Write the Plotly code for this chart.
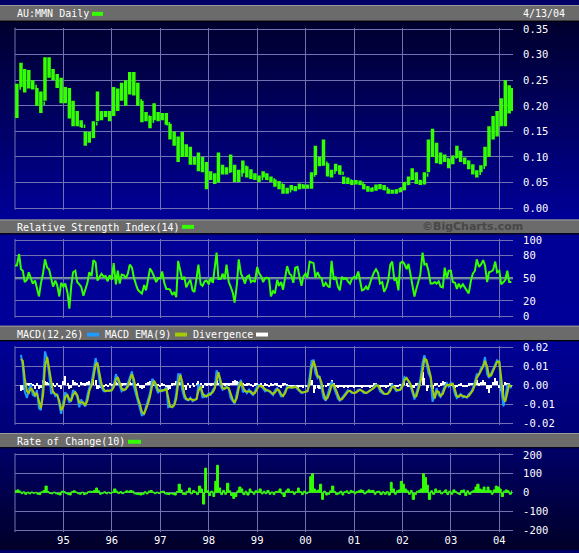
import plotly.graph_objects as go
import pandas as pd

W, H = 579, 553

# ---------------- data ----------------
year_tick_dates = ['1995-01-01', '1996-01-01', '1997-01-01', '1998-01-01', '1999-01-01',
                   '2000-01-01', '2001-01-01', '2002-01-01', '2003-01-01', '2004-01-01']
year_tick_labels = ['95', '96', '97', '98', '99', '00', '01', '02', '03', '04']

price_tick_vals = [0.00, 0.05, 0.10, 0.15, 0.20, 0.25, 0.30, 0.35]
rsi_tick_vals = [0, 20, 50, 80, 100]
macd_tick_vals = [-0.02, -0.01, 0.00, 0.01, 0.02]
roc_tick_vals = [-200, -100, 0, 100, 200]

# monthly bars, Jan 1994 .. Apr 2004
price_high = [0.243, 0.284, 0.272, 0.270, 0.250, 0.235, 0.228, 0.295, 0.295, 0.272,
              0.262, 0.255, 0.237, 0.235, 0.210, 0.190, 0.172, 0.150, 0.149, 0.170,
              0.228, 0.190, 0.190, 0.190, 0.237, 0.234, 0.245, 0.250, 0.266, 0.266,
              0.245, 0.210, 0.188, 0.180, 0.205, 0.188, 0.186, 0.186, 0.165, 0.150,
              0.140, 0.149, 0.125, 0.120, 0.100, 0.109, 0.100, 0.090, 0.072, 0.068,
              0.109, 0.085, 0.080, 0.105, 0.085, 0.075, 0.093, 0.082, 0.076, 0.068,
              0.064, 0.072, 0.068, 0.062, 0.056, 0.053, 0.047, 0.040, 0.045, 0.042,
              0.048, 0.046, 0.046, 0.070, 0.122, 0.100, 0.134, 0.088, 0.075, 0.087,
              0.084, 0.062, 0.060, 0.055, 0.055, 0.054, 0.047, 0.043, 0.040, 0.046,
              0.047, 0.045, 0.038, 0.036, 0.037, 0.040, 0.051, 0.062, 0.078, 0.070,
              0.055, 0.070, 0.134, 0.155, 0.128, 0.109, 0.105, 0.097, 0.103, 0.122,
              0.112, 0.099, 0.093, 0.086, 0.074, 0.084, 0.120, 0.160, 0.180, 0.190,
              0.215, 0.250, 0.240, 0.235]
price_low = [0.176, 0.237, 0.226, 0.234, 0.232, 0.200, 0.186, 0.210, 0.255, 0.250,
             0.235, 0.205, 0.205, 0.175, 0.160, 0.160, 0.158, 0.122, 0.128, 0.137,
             0.170, 0.172, 0.178, 0.170, 0.180, 0.190, 0.210, 0.200, 0.222, 0.220,
             0.200, 0.168, 0.170, 0.156, 0.172, 0.170, 0.172, 0.163, 0.134, 0.122,
             0.090, 0.100, 0.100, 0.085, 0.085, 0.072, 0.070, 0.037, 0.055, 0.047,
             0.050, 0.066, 0.066, 0.070, 0.051, 0.051, 0.068, 0.060, 0.057, 0.055,
             0.051, 0.060, 0.055, 0.051, 0.042, 0.037, 0.028, 0.028, 0.035, 0.033,
             0.037, 0.038, 0.038, 0.038, 0.065, 0.082, 0.083, 0.062, 0.060, 0.072,
             0.066, 0.047, 0.047, 0.045, 0.046, 0.045, 0.037, 0.032, 0.032, 0.034,
             0.037, 0.035, 0.028, 0.028, 0.028, 0.031, 0.035, 0.045, 0.055, 0.047,
             0.045, 0.046, 0.070, 0.100, 0.088, 0.086, 0.090, 0.078, 0.086, 0.098,
             0.090, 0.086, 0.076, 0.066, 0.060, 0.070, 0.082, 0.100, 0.134, 0.140,
             0.160, 0.160, 0.185, 0.190]
price_close = [0.235, 0.262, 0.248, 0.245, 0.238, 0.215, 0.205, 0.285, 0.262, 0.258,
               0.240, 0.215, 0.222, 0.190, 0.175, 0.168, 0.160, 0.135, 0.140, 0.165,
               0.185, 0.182, 0.185, 0.185, 0.215, 0.220, 0.230, 0.235, 0.245, 0.240,
               0.210, 0.180, 0.178, 0.170, 0.180, 0.180, 0.178, 0.165, 0.140, 0.130,
               0.110, 0.115, 0.110, 0.095, 0.090, 0.080, 0.080, 0.065, 0.062, 0.055,
               0.075, 0.075, 0.072, 0.075, 0.060, 0.065, 0.080, 0.070, 0.065, 0.060,
               0.058, 0.065, 0.058, 0.055, 0.048, 0.045, 0.035, 0.034, 0.040, 0.040,
               0.044, 0.042, 0.042, 0.065, 0.095, 0.090, 0.088, 0.068, 0.070, 0.078,
               0.068, 0.052, 0.053, 0.050, 0.050, 0.048, 0.040, 0.036, 0.038, 0.042,
               0.042, 0.038, 0.032, 0.032, 0.034, 0.038, 0.048, 0.058, 0.065, 0.052,
               0.050, 0.065, 0.120, 0.115, 0.100, 0.095, 0.095, 0.090, 0.100, 0.105,
               0.095, 0.090, 0.080, 0.070, 0.068, 0.080, 0.110, 0.150, 0.160, 0.180,
               0.200, 0.210, 0.210, 0.215]
price_first_open = 0.200

# half-monthly readings, Jan 1994 .. Apr 2004
rsi_values = [67, 67, 82, 62, 60, 45, 48, 58, 50, 43,
              47, 38, 26, 43, 57, 75, 64, 62, 50, 39,
              47, 41, 26, 44, 39, 43, 31, 10, 40, 58,
              60, 45, 42, 39, 27, 35, 44, 58, 53, 74,
              71, 47, 52, 56, 52, 53, 46, 54, 48, 70,
              42, 60, 43, 55, 54, 50, 56, 68, 64, 51,
              42, 35, 32, 30, 41, 34, 49, 63, 58, 52,
              45, 50, 50, 59, 43, 36, 36, 35, 28, 32,
              25, 73, 60, 48, 52, 38, 44, 48, 34, 32,
              50, 68, 42, 40, 46, 47, 42, 50, 44, 62,
              84, 49, 49, 56, 49, 68, 45, 39, 31, 18,
              42, 75, 56, 51, 43, 52, 54, 45, 47, 45,
              65, 57, 52, 45, 50, 51, 49, 26, 33, 30,
              48, 40, 45, 35, 54, 66, 56, 54, 44, 64,
              65, 55, 40, 52, 56, 51, 72, 71, 70, 51,
              58, 52, 50, 39, 44, 40, 38, 73, 48, 52,
              39, 34, 52, 49, 50, 46, 43, 49, 52, 50,
              59, 47, 34, 35, 39, 35, 45, 51, 58, 62,
              57, 43, 45, 32, 38, 47, 68, 72, 47, 50,
              34, 70, 72, 69, 62, 69, 56, 44, 26, 36,
              45, 55, 84, 68, 69, 60, 43, 43, 45, 43,
              46, 39, 38, 64, 50, 60, 60, 45, 44, 36,
              43, 38, 42, 38, 33, 30, 47, 56, 60, 75,
              65, 68, 74, 67, 45, 58, 59, 61, 72, 58,
              60, 42, 45, 48, 60, 45, 45]

# MACD values in thousandths
macd_milli = [None, None, None, 16.2, 10, -3, -6.6, -2, 0.5, -5,
              -5.7, -2.5, -12, -13, 0, 18, 14, 6, -4.5, -3,
              -5.5, -4.5, -11, -15, -8.3, -3.5, -6, -9, -7, -2.5,
              -4, -6, -11.5, -7.4, -10, -11, -5, -1.2, 1.2, 7,
              14.5, 10, 2, -1, -3, -3, -2.5, -3, -2.2, 0,
              6, 3, 0, -3, -2, -2, 1.2, 4.5, 7.5, -0.5,
              -4.5, -8.5, -11.5, -16, -14.5, -11, -8, -4, 3.5, 2,
              -1.4, -4, -2, -3, -2.2, -1, -11.5, -11, -11.5, -10,
              -4, 6, 6, -2.5, -6.6, -7.4, -7.8, -6.5, -8.3, -7.4,
              -7, 0.5, -1, -6.6, -5, -6, -4, -4.8, -2.2, -1,
              8, 6, -0.5, -2.2, -1.4, -0.5, -2, -6.6, -8.3, -9.5,
              -4, 0.5, 3, -3.5, -2.5, -4, -2.2, -4, -5, -3,
              -0.5, 0.3, -0.5, -1.4, -3, -2.2, -3.1, -4, -5, -2.5,
              -1.4, -3.5, -5.7, -5.5, -2.2, -0.5, -1, -1.2, -1, -0.5,
              -2, -3, -4, -3.5, -3.1, -3, 5, 13, 13.3, 6.5,
              4, 5, -1.5, -6.6, -8, -5, -2, 2.1, -1, -3.5,
              -7, -8, -6.6, -5, -4, -2.5, -3, -4, -4, -3.5,
              -2.2, -2.2, -3.1, -4, -4, -3.1, -2.5, -2, -0.5, 0.5,
              -0.5, -3, -4, -4.5, -4.5, -4, -1.5, 0.3, -1.4, -3,
              -2.2, -2.2, 1, 4.5, 3.5, 2.1, 0, -4, -7.4, -4,
              -0.5, 3, 12, 16, 11.6, 6.5, 4, -8.5, -5, -1.4,
              -5, -6, -3, -0.5, 1.2, -0.5, 1.5, 0.3, -4.8, -6.6,
              -5.5, -4.5, -6.3, -5.7, -6.5, -4.5, -3.5, -1.5, 2.1, 6,
              6, 9, 10.7, 15, 6, 4, 6.5, 9, 11.6, 13.3,
              12, -2, -11, -6, 0, 0.5, -1.4]

macd_ema_milli = [None, None, None, 14, 13, 4, -3, -4, -1.5, -2.5,
                  -5, -4, -8, -12, -5, 10, 15, 9, 1, -3.5,
                  -4.5, -5, -8, -13, -11, -6, -5, -7.5, -8, -5,
                  -3.5, -5, -9, -9, -9, -10.5, -8, -3, 0, 4,
                  11, 12, 6, 1, -2, -3, -2.8, -2.8, -2.5, -1,
                  3, 4.5, 1.5, -1.5, -2.5, -2, -0.5, 3, 6, 3.5,
                  -2.5, -6.5, -10, -14, -15, -12.5, -9.5, -6, 0, 2.5,
                  0.5, -2.5, -3, -2.5, -2.5, -1.5, -6.5, -11, -11.3, -10.5,
                  -7, 1, 5.5, 2, -4.5, -7, -7.6, -7, -7.5, -7.8,
                  -7.2, -3, -0.5, -4, -5.8, -5.5, -5, -4.4, -3.5, -1.6,
                  3.5, 7, 2.5, -1.3, -1.8, -1, -1.3, -4.5, -7.5, -9,
                  -6.5, -1.5, 2, -0.5, -3, -3.2, -3, -3.2, -4.5, -4,
                  -1.8, -0.2, -0.1, -1, -2.2, -2.6, -2.7, -3.5, -4.5, -3.7,
                  -2, -2.5, -4.6, -5.6, -3.8, -1.3, -0.8, -1.1, -1.1, -0.7,
                  -1.3, -2.5, -3.5, -3.7, -3.3, -3, 1, 9, 13, 10,
                  5, 4.5, 1.5, -4, -7.3, -6.5, -3.5, 0, 0.5, -2.2,
                  -5.3, -7.5, -7.3, -5.8, -4.5, -3.2, -2.8, -3.5, -4, -3.7,
                  -2.8, -2.2, -2.7, -3.5, -4, -3.5, -2.8, -2.2, -1.2, 0,
                  0, -1.8, -3.5, -4.3, -4.5, -4.2, -2.7, -0.6, -0.6, -2.2,
                  -2.6, -2.2, -0.5, 2.8, 4, 2.8, 1, -2, -5.8, -5.7,
                  -2.2, 1.3, 7.5, 14, 13.5, 9, 5, -2, -6.8, -3,
                  -3.3, -5.5, -4.5, -1.7, 0.4, 0.3, 0.5, 0.9, -2.3, -5.7,
                  -6, -5, -5.5, -6, -6.1, -5.5, -4, -2.5, 0.3, 4,
                  6, 7.5, 10, 13, 10, 5, 5.3, 7.8, 10.3, 12.5,
                  12.6, 5, -6.5, -8.5, -3, 0.2, -0.5]

divergence_milli = [None, None, None, -3, -2.5, -1, 1.2, 1, 1.5, 0.8,
                    -2, 1, -2, -1.5, 2.9, 2.5, 2, 1.5, -1.5, 1,
                    -1, 1.2, -1, -2, 2.5, 4.7, 1, -2, -1.5, 2.9,
                    2, 1.5, -1, 2, 1.5, 1, 2, 2.5, 3.5, 3.8,
                    3, -2, -1.4, 1.2, -1, 0.8, -0.8, 1.2, 0.8, 1.5,
                    2, 1.2, 1.5, 1, 1.5, 1.2, 2, 1.8, 1.5, 1,
                    0.8, 1, -1.5, -2, -1.4, 1.5, 2, 2.5, 2, 1,
                    -0.8, 0.8, -1, 1, 0.8, -1.5, -2.2, -2, 1, 1.5,
                    2.5, 2.9, 2, 1.5, -1, -2.2, 1.5, -1.5, 1.2, -1,
                    1.5, 2.5, 1.2, -1.2, 1.5, 1, 1.5, 1, 1.2, 1.8,
                    2.9, 1.5, 1, 1.2, 1, 1.5, 1, 1.2, 2.5, 2.9,
                    2.5, 2, 1, 1.2, 0.8, 1, 1.2, 0.8, -0.8, 1,
                    1.2, 0.8, 1, -0.8, 1, 0.8, -1, 1, 0.8, 1.2,
                    1, -0.8, -1.2, 1, 1.2, 0.8, -1, -1.2, -0.8, -1,
                    -1.4, -1, -0.8, -1.2, -1, -0.8, 4.7, 3, -4, -2,
                    -1.5, -2, -1.5, -1, -0.8, 1, 1.2, 2.9, 1.5, -1,
                    -1.2, -1, -0.8, -1.2, -1, -1.4, -1, -0.8, -1.2, -1,
                    -0.8, -1, -1.2, -1, -0.8, -1, -1.2, -0.8, 1, 1.2,
                    -1, -1.2, -0.8, -1, -1.2, -0.8, 1, 1.2, -1, -0.8,
                    -1, 0.8, 1.5, 2, 1, -0.8, -1, -1.5, -1.2, 1,
                    1.5, 2.9, 7.2, 3.8, -3, -1.5, -1, -2, 1, 1.2,
                    -0.8, 1, 2.5, 2, 1, -0.8, 1, -1, -1.2, -1,
                    0.8, 1, -0.8, -1, -0.8, 1, 1.2, 1.5, 2.5, 2.9,
                    1, 2, 2.9, 2, -2, -4, -1.5, 2, 3.8, 2.5,
                    -1.5, -3, -4, 2, 1.5, 1, -0.8]

roc_values = [10, 15, 8, -5, 5, -8, 3, -6, 4, -3,
              2, -8, -10, 5, 12, 35, 6, -4, -6, 3,
              -5, -8, -12, 8, 6, -4, -10, -12, 6, 10,
              4, -5, -8, 3, -10, -6, 5, 8, 6, 12,
              25, 10, -8, -3, 5, -5, 3, -4, 4, 20,
              8, -4, 6, -5, 4, 10, 6, 12, 8, -6,
              -8, -10, -12, -8, 5, -6, 8, 12, 4, -5,
              3, -4, 6, 8, -6, -8, -10, -5, -8, -12,
              6, 45, 15, -8, -10, 8, 25, -6, 12, 5,
              -10, 35, 20, -60, 130, 10, -15, 8, -20, 60,
              145, 25, -10, 12, -8, 50, 10, -15, -30, -20,
              10, 30, 20, -10, 8, -12, 20, 6, -8, 10,
              5, 20, -6, 8, -5, 12, -8, 4, -10, 6,
              8, 20, -6, -20, 10, 20, 5, 8, -8, 5,
              25, 6, -10, 8, -5, 4, 85, 100, 20, 10,
              15, 45, -35, 8, -12, -8, 10, 35, 6, -10,
              -6, 8, -12, 5, 10, -4, 12, 8, -6, 6,
              10, 15, 12, -6, 8, 15, 10, 12, -8, 6,
              8, -10, 5, -8, 6, -12, 55, 20, -8, 10,
              15, 60, 45, 20, 10, -8, 12, -35, -10, 8,
              12, 20, 100, 80, 40, -35, 10, -8, 20, 8,
              12, -6, 5, 15, -10, 8, -8, 15, 6, -5,
              -10, 12, 15, -15, 10, -8, 6, 12, 30, 45,
              20, 15, 30, 10, 30, 12, -8, 15, 35, 30,
              20, -20, 8, 15, 10, -8, 12]

# ---------------- dates ----------------
month_dates = list(pd.date_range('1994-01-01', periods=len(price_high), freq='MS') + pd.Timedelta(days=14))
month_dates[-1] = pd.Timestamp('2004-04-07')
half_month_dates = list(pd.date_range('1994-01-01', periods=247, freq='SMS'))
price_open = [price_first_open] + price_close[:-1]

X_RANGE = ['1994-01-01', '2004-04-13']

# ---------------- styles ----------------
MONO = 'DejaVu Sans Mono'
GREEN = '#33ff00'
BLUE = '#1e9bff'
YGREEN = '#a5cc00'
GRID = '#7272b2'
HEADER = '#6b6b6b'


def fx(p):
    return p / W


def fy(p):
    return 1 - p / H


PAD = 1.5


def panel(v_lo, v_hi, px_lo, px_hi):
    s = (px_lo - px_hi) / (v_hi - v_lo)
    rng = [v_lo - PAD / s, v_hi + PAD / s]
    dom = [fy(px_lo + PAD), fy(px_hi - PAD)]
    return rng, dom


price_rng, price_dom = panel(0.0, 0.35, 206.5, 24.5)
rsi_rng, rsi_dom = panel(0, 100, 316.3, 239.3)
macd_rng, macd_dom = panel(-0.02, 0.02, 425.3, 348.3)
roc_rng, roc_dom = panel(-200, 200, 534.3, 457.3)
X_DOM = [fx(15), fx(513)]

fig = go.Figure()

fig.add_trace(go.Ohlc(
    x=month_dates, open=price_open, high=price_high, low=price_low, close=price_close,
    increasing=dict(line=dict(color=GREEN, width=3.5)),
    decreasing=dict(line=dict(color=GREEN, width=3.5)),
    tickwidth=0.5, xaxis='x', yaxis='y', hoverinfo='skip', showlegend=False))

fig.add_trace(go.Scatter(
    x=half_month_dates[:len(rsi_values)], y=rsi_values, mode='lines',
    line=dict(color=GREEN, width=2), xaxis='x2', yaxis='y2', hoverinfo='skip', showlegend=False))

fig.add_trace(go.Bar(
    x=half_month_dates[:len(divergence_milli)],
    y=[None if v is None else v / 1000 for v in divergence_milli],
    marker=dict(color='white', line=dict(width=0)),
    width=1000 * 3600 * 24 * 15.2, xaxis='x3', yaxis='y3', hoverinfo='skip', showlegend=False))

fig.add_trace(go.Scatter(
    x=half_month_dates[:len(macd_milli)],
    y=[None if v is None else v / 1000 for v in macd_milli], mode='lines',
    line=dict(color=BLUE, width=2), xaxis='x3', yaxis='y3', hoverinfo='skip', showlegend=False))

fig.add_trace(go.Scatter(
    x=half_month_dates[:len(macd_ema_milli)],
    y=[None if v is None else v / 1000 for v in macd_ema_milli], mode='lines',
    line=dict(color=YGREEN, width=2), xaxis='x3', yaxis='y3', hoverinfo='skip', showlegend=False))

fig.add_trace(go.Scatter(
    x=half_month_dates[:len(roc_values)], y=roc_values, mode='lines',
    line=dict(color=GREEN, width=1, shape='hv'), fill='tozeroy', fillcolor=GREEN,
    xaxis='x4', yaxis='y4', hoverinfo='skip', showlegend=False))


def xaxis(anchor, labels):
    return dict(domain=X_DOM, range=X_RANGE, type='date', anchor=anchor,
                showgrid=True, gridcolor=GRID, gridwidth=1,
                tickmode='array', tickvals=year_tick_dates, ticktext=year_tick_labels,
                showticklabels=labels, ticks='',
                tickfont=dict(family=MONO, size=10.5, color='white'),
                zeroline=False, showline=False, fixedrange=True,
                rangeslider=dict(visible=False))


def yaxis(anchor, rng, dom, vals, texts):
    return dict(domain=dom, range=rng, anchor=anchor, side='right',
                showgrid=True, gridcolor=GRID, gridwidth=1,
                tickmode='array', tickvals=vals, ticktext=texts,
                ticks='outside', ticklen=7, tickcolor='rgba(0,0,0,0)',
                tickfont=dict(family=MONO, size=10.5, color='white'),
                zeroline=False, showline=False, fixedrange=True)


shapes = []


def add_gradient(top_px, bot_px, c_top, c_bot, n=30):
    step = (bot_px - top_px) / n
    for i in range(n):
        t = (i + 0.5) / n
        c = tuple(int(round(a + (b - a) * t)) for a, b in zip(c_top, c_bot))
        y0 = top_px + i * step
        y1 = y0 + step + 0.7
        shapes.append(dict(type='rect', xref='paper', yref='paper', x0=0, x1=1,
                           y0=fy(y1), y1=fy(y0), fillcolor='rgb(%d,%d,%d)' % c,
                           line=dict(width=0), layer='below'))


add_gradient(16, 219, (0, 0, 45), (0, 0, 152))
add_gradient(232, 327, (0, 0, 150), (0, 0, 152))
add_gradient(340, 436, (0, 0, 150), (0, 0, 118))
add_gradient(449, 553, (0, 0, 105), (0, 0, 40))

for top, bot in [(0, 16), (218, 232), (326, 340.5), (435, 449.5)]:
    shapes.append(dict(type='rect', xref='paper', yref='paper', x0=0, x1=1,
                       y0=fy(bot), y1=fy(top), fillcolor=HEADER, line=dict(width=0), layer='below'))
    shapes.append(dict(type='rect', xref='paper', yref='paper', x0=0, x1=1,
                       y0=fy(top + 1), y1=fy(top), fillcolor='#9a9a9a', line=dict(width=0), layer='below'))
    shapes.append(dict(type='rect', xref='paper', yref='paper', x0=0, x1=1,
                       y0=fy(bot + 1.2), y1=fy(bot), fillcolor='#000000', line=dict(width=0), layer='below'))

# legend swatches
for x0, x1, y0, y1, col in [(92, 103, 7, 11, GREEN), (182, 194, 223.5, 227.5, GREEN),
                            (87, 99, 333, 337, BLUE), (175, 187, 333, 337, YGREEN),
                            (256, 268, 333, 337, 'white'), (128, 141, 442, 446, GREEN)]:
    shapes.append(dict(type='rect', xref='paper', yref='paper', x0=fx(x0), x1=fx(x1),
                       y0=fy(y1), y1=fy(y0), fillcolor=col, line=dict(width=0), layer='below'))

# left axis lines and RSI mid line
for xa, ya in [('x', 'y'), ('x2', 'y2'), ('x3', 'y3'), ('x4', 'y4')]:
    shapes.append(dict(type='line', xref=xa + ' domain', yref=ya + ' domain',
                       x0=0, x1=0, y0=0, y1=1, line=dict(color=GRID, width=1), layer='below'))
shapes.append(dict(type='line', xref='x2 domain', yref='y2', x0=0, x1=1, y0=50, y1=50,
                   line=dict(color='#94d890', width=2), layer='below'))

annotations = []


def label(text, x, y, anchor='left', color='white', family=MONO, size=10, bold=False):
    annotations.append(dict(text=('<b>%s</b>' % text) if bold else text,
                            xref='paper', yref='paper', x=fx(x), y=fy(y),
                            xanchor=anchor, yanchor='middle', showarrow=False,
                            font=dict(family=family, size=size, color=color)))


label('AU:MMN Daily', 15, 9)
label('4/13/04', 567, 9, anchor='right')
label('Relative Strength Index(14)', 15, 226)
label('©BigCharts.com', 472, 225.5, anchor='center', color='#474747', family='DejaVu Sans', size=11, bold=True)
label('MACD(12,26)', 15, 335)
label('MACD EMA(9)', 103, 335)
label('Divergence', 191, 335)
label('Rate of Change(10)', 15, 444)

fig.update_layout(
    width=W, height=H, margin=dict(l=0, r=0, t=0, b=0),
    paper_bgcolor='#000066', plot_bgcolor='rgba(0,0,0,0)',
    showlegend=False, bargap=0,
    xaxis=xaxis('y', False),
    xaxis2=xaxis('y2', False),
    xaxis3=xaxis('y3', False),
    xaxis4=xaxis('y4', True),
    yaxis=yaxis('x', price_rng, price_dom, price_tick_vals, ['%.2f' % v for v in price_tick_vals]),
    yaxis2=yaxis('x2', rsi_rng, rsi_dom, rsi_tick_vals, [str(v) for v in rsi_tick_vals]),
    yaxis3=yaxis('x3', macd_rng, macd_dom, macd_tick_vals, ['%.2f' % v for v in macd_tick_vals]),
    yaxis4=yaxis('x4', roc_rng, roc_dom, roc_tick_vals, [str(v) for v in roc_tick_vals]),
    shapes=shapes, annotations=annotations,
)

fig.write_html('out.html', config={'displayModeBar': False},
               post_script="document.body.style.margin='0';document.body.style.padding='0';"
                           "document.documentElement.style.overflow='hidden';")
